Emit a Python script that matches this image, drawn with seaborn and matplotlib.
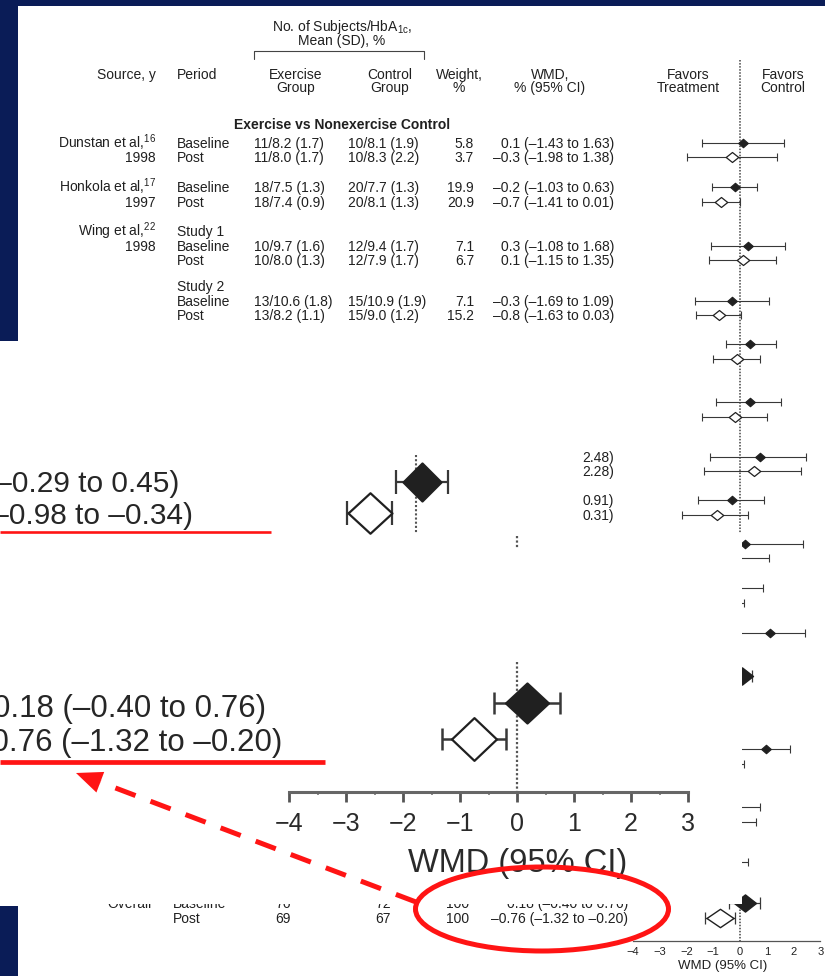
import numpy as np
import pandas as pd
import matplotlib
matplotlib.use("Agg")
import matplotlib.pyplot as plt
import seaborn as sns
from matplotlib.patches import Rectangle, Ellipse, Polygon
from matplotlib.path import Path

# ---------------- data ----------------
study_names = [r"Dunstan et al,$^{\mathrm{16}}$", r"Honkola et al,$^{\mathrm{17}}$",
               r"Wing et al,$^{\mathrm{22}}$"]
study_years = ["1998", "1997", "1998"]
wing_parts = ["Study 1", "Study 2"]
periods = ["Baseline", "Post"] * 4
exercise_group = ["11/8.2 (1.7)", "11/8.0 (1.7)", "18/7.5 (1.3)", "18/7.4 (0.9)",
                  "10/9.7 (1.6)", "10/8.0 (1.3)", "13/10.6 (1.8)", "13/8.2 (1.1)"]
control_group = ["10/8.1 (1.9)", "10/8.3 (2.2)", "20/7.7 (1.3)", "20/8.1 (1.3)",
                 "12/9.4 (1.7)", "12/7.9 (1.7)", "15/10.9 (1.9)", "15/9.0 (1.2)"]
weights = [5.8, 3.7, 19.9, 20.9, 7.1, 6.7, 7.1, 15.2]
wmd = [0.1, -0.3, -0.2, -0.7, 0.3, 0.1, -0.3, -0.8]
wmd_lo = [-1.43, -1.98, -1.03, -1.41, -1.08, -1.15, -1.69, -1.63]
wmd_hi = [1.63, 1.38, 0.63, 0.01, 1.68, 1.35, 1.09, 0.03]

# rows lower down, mostly hidden behind the call-outs (estimated from the visible bits)
hidden_period = ["Baseline", "Post"] * 6 + ["Baseline"] + ["Baseline", "Post"] * 2 + ["Post"]
hidden_est = [0.37, -0.11, 0.37, -0.19, 0.75, 0.52, -0.30, -0.86, 0.20, -0.50,
              -0.40, -0.90, 1.12, 0.97, -0.60, -0.20, -0.40, -0.35]
hidden_lo = [-0.52, -1.00, -0.90, -1.42, -1.12, -1.34, -1.57, -2.16, -2.10, -2.00,
             -1.60, -1.90, -0.20, -0.10, -1.40, -1.10, -1.40, -0.95]
hidden_hi = [1.34, 0.75, 1.53, 1.00, 2.48, 2.28, 0.91, 0.31, 2.35, 1.08,
             0.86, 0.15, 2.43, 1.87, 0.15, 0.75, 0.60, 0.30]

# pooled rows
sub_est = [0.08, -0.66]
sub_lo = [-0.29, -0.98]
sub_hi = [0.45, -0.34]
overall_periods = ["Baseline", "Post"]
overall_n_ex = [76, 69]
overall_n_ct = [72, 67]
overall_weight = [100, 100]
overall_est = [0.18, -0.76]
overall_lo = [-0.40, -1.32]
overall_hi = [0.76, -0.20]
axis_ticks = [-4, -3, -2, -1, 0, 1, 2, 3]

# ---------------- layout (pixels) ----------------
W, H = 825, 976
row_y = [143, 157, 187, 202, 246, 260, 301, 315]
name_y = [143, 187, 231]
year_y = [157, 202, 246]
part_y = [231, 286]
hidden_y = [344, 359, 402, 417, 457, 471, 500, 515, 544, 558, 588, 603, 633,
            749, 764, 807, 822, 862]
sub_y = [676, 691]
overall_y = [903, 918]

NAVY = "#0a1c57"
INK = "#202020"
LINE = "#383838"
RED = "#ff1414"

sns.set_style("white")
plt.rcParams["font.family"] = ["Liberation Sans", "DejaVu Sans"]
plt.rcParams["mathtext.fontset"] = "custom"
plt.rcParams["mathtext.rm"] = "Liberation Sans"
plt.rcParams["mathtext.it"] = "Liberation Sans:italic"
plt.rcParams["mathtext.bf"] = "Liberation Sans:bold"

fig = plt.figure(figsize=(W / 100, H / 100), dpi=100, facecolor=NAVY)


def px_axes(x0, y0, x1, y1, z):
    ax = fig.add_axes([x0 / W, 1 - y1 / H, (x1 - x0) / W, (y1 - y0) / H], zorder=z)
    ax.patch.set_visible(False)
    return ax


def dash(v, nd):
    return f"{v:.{nd}f}".replace("-", "\u2013")


def ci_text(e, l, h, nd=1):
    return f"{dash(e, nd)} ({dash(l, 2)} to {dash(h, 2)})"


def put(ax, x, y, s, ha="left", size=10, off=5.0, **kw):
    kw.setdefault("color", INK)
    ax.text(x, y + off, s, ha=ha, va="baseline", fontsize=size, **kw)


def diamond(r):
    return Path([(-1, 0), (0, r), (1, 0), (0, -r), (-1, 0)], closed=True)


def forest(ax, est, lo, hi, ys, filled, w_px, ratio, lw, cap, edge_lw):
    est, lo, hi, ys = (np.asarray(a, dtype=float) for a in (est, lo, hi, ys))
    ax.errorbar(est, ys, xerr=[est - lo, hi - est], fmt="none", ecolor=LINE,
                elinewidth=lw, capsize=cap, capthick=lw, zorder=2)
    df = pd.DataFrame({"est": est, "y": ys, "filled": filled})
    for i, (flag, face) in enumerate([(True, INK), (False, "white")]):
        part = df[df["filled"] == flag]
        if len(part):
            sns.scatterplot(data=part, x="est", y="y", ax=ax, marker=diamond(ratio[i]),
                            s=(w_px[i] * 0.72) ** 2, color=face, edgecolor=INK,
                            linewidth=edge_lw, legend=False, zorder=3, clip_on=False)
    ax.set_xlabel("")
    ax.set_ylabel("")


# ---------------- page and table ----------------
page = px_axes(0, 0, W, H, 0)
page.set_xlim(0, W)
page.set_ylim(H, 0)
page.set_axis_off()
page.add_patch(Rectangle((18, 6), W - 18, H - 6, color="white", lw=0))
page.add_patch(Rectangle((0, 341), 18, 565, color="white", lw=0))

put(page, 342, 26, r"No. of Subjects/HbA$_{\mathrm{1c}}$,", ha="center")
put(page, 342, 40, "Mean (SD), %", ha="center")
page.plot([254, 254, 424, 424], [59, 51, 51, 59], color="#444", lw=0.8)

headers = [(156, "right", "Source, y", ""), (177, "left", "Period", ""),
           (296, "center", "Exercise", "Group"), (390, "center", "Control", "Group"),
           (459, "center", "Weight,", "%"), (550, "center", "WMD,", "% (95% CI)"),
           (688, "center", "Favors", "Treatment"), (783, "center", "Favors", "Control")]
for x, ha, l1, l2 in headers:
    put(page, x, 74, l1, ha=ha)
    if l2:
        put(page, x, 87, l2, ha=ha)

put(page, 342, 124, "Exercise vs Nonexercise Control", ha="center", fontweight="bold")

for name, yr, yn, yy in zip(study_names, study_years, name_y, year_y):
    put(page, 156, yn, name, ha="right")
    put(page, 156, yy, yr, ha="right")
for part, yp in zip(wing_parts, part_y):
    put(page, 177, yp, part)
for i, y in enumerate(row_y):
    put(page, 177, y, periods[i])
    put(page, 254, y, exercise_group[i])
    put(page, 348, y, control_group[i])
    put(page, 474, y, f"{weights[i]:.1f}", ha="right")
    put(page, 614, y, ci_text(wmd[i], wmd_lo[i], wmd_hi[i]), ha="right")

# visible slivers of covered rows
for i in [4, 5, 6, 7]:
    put(page, 614, hidden_y[i], f"{hidden_hi[i]:.2f})", ha="right")

put(page, 152, overall_y[0], "Overall", ha="right")
for i, y in enumerate(overall_y):
    put(page, 173, y, overall_periods[i])
    put(page, 283, y, str(overall_n_ex[i]), ha="center")
    put(page, 383, y, str(overall_n_ct[i]), ha="center")
    put(page, 458, y, str(overall_weight[i]), ha="center")
    put(page, 628, y, ci_text(overall_est[i], overall_lo[i], overall_hi[i], 2), ha="right")

# ---------------- main forest plot ----------------
ZERO, PXU = 740, 26.8
fp = px_axes(620, 0, W, 941, 1)
fp.vlines(0, 60, 941, colors="#444", linestyles=(0, (1, 1)), lw=1.1, zorder=1)
forest(fp, wmd, wmd_lo, wmd_hi, row_y, [p == "Baseline" for p in periods],
       (9.5, 12.5), (0.88, 0.8), 0.8, 2.9, 0.9)
forest(fp, hidden_est, hidden_lo, hidden_hi, hidden_y,
       [p == "Baseline" for p in hidden_period], (9.5, 12.5), (0.88, 0.8), 0.8, 2.9, 0.9)
forest(fp, sub_est, sub_lo, sub_hi, sub_y, [True, False], (22, 27), (0.78, 0.68), 0.9, 4.5, 1.0)
forest(fp, overall_est, overall_lo, overall_hi, overall_y, [True, False],
       (22, 27), (0.78, 0.68), 0.9, 4.5, 1.0)
fp.set_xlim((620 - ZERO) / PXU, (W - ZERO) / PXU)
fp.set_ylim(941, 0)
for s in ["top", "right", "left"]:
    fp.spines[s].set_visible(False)
fp.spines["bottom"].set_bounds(axis_ticks[0], axis_ticks[-1])
fp.spines["bottom"].set_color("#555")
fp.spines["bottom"].set_linewidth(0.9)
fp.set_xticks(axis_ticks)
fp.set_yticks([])
fp.tick_params(axis="x", length=2.5, width=0.8, color="#555", labelcolor=INK,
               labelsize=8, pad=2)
fp.set_xlabel("WMD (95% CI)", fontsize=9.5, color=INK, labelpad=2)

# ---------------- cover for the call-outs ----------------
cov = px_axes(0, 0, W, H, 2)
cov.set_xlim(0, W)
cov.set_ylim(H, 0)
cov.set_axis_off()
cov.add_patch(Rectangle((0, 533), 742, 371, color="white", lw=0))

# call-out 1: subtotal, enlarged
put(cov, 179, 482, ci_text(sub_est[0], sub_lo[0], sub_hi[0], 2), ha="right", size=21.5,
    off=10.5, color="#262626")
put(cov, 193, 513, ci_text(sub_est[1], sub_lo[1], sub_hi[1], 2), ha="right", size=21.5,
    off=10.5, color="#262626")
in1 = px_axes(0, 341, 620, 533, 3)
in1.vlines(0, 455, 533, colors="#555", linestyles=(0, (1, 1)), lw=1.5)
forest(in1, sub_est, sub_lo, sub_hi, [482, 513], [True, False], (38, 44), (1.0, 0.92), 1.6, 8.3, 1.6)
in1.set_xlim(-416 / 70, (620 - 416) / 70)
in1.set_ylim(533, 341)
in1.set_axis_off()

# call-out 2: overall, enlarged
put(cov, 266, 705, ci_text(overall_est[0], overall_lo[0], overall_hi[0], 2), ha="right",
    size=22.5, off=11.5, color="#262626")
put(cov, 282, 739, ci_text(overall_est[1], overall_lo[1], overall_hi[1], 2), ha="right",
    size=22.5, off=11.5, color="#262626")
in2 = px_axes(0, 533, 742, 792, 3)
in2.vlines([0, 0], [662, 536], [792, 548], colors="#555", linestyles=(0, (1, 1)), lw=1.6)
forest(in2, overall_est, overall_lo, overall_hi, [703, 739], [True, False],
       (43, 45), (0.93, 0.95), 1.8, 8, 1.6)
in2.set_xlim(-517 / 57, (742 - 517) / 57)
in2.set_ylim(792, 533)
for s in ["top", "right", "left"]:
    in2.spines[s].set_visible(False)
in2.spines["bottom"].set_bounds(axis_ticks[0], axis_ticks[-1])
in2.spines["bottom"].set_color("#666")
in2.spines["bottom"].set_linewidth(2.2)
in2.set_xticks(axis_ticks)
in2.set_xticks(np.arange(axis_ticks[0], axis_ticks[-1] + 0.01, 0.5), minor=True)
in2.set_yticks([])
in2.tick_params(axis="x", which="major", direction="out", length=7.2, width=2.0,
                color="#555", labelcolor="#2a2a2a", labelsize=18, pad=7.5, bottom=True)
in2.tick_params(axis="x", which="minor", direction="out", length=2.5, width=1.2,
                color="#777", bottom=True)
in2.set_xlabel("WMD (95% CI)", fontsize=23.5, color="#2a2a2a")
in2.xaxis.set_label_coords(518 / 742, -(848 - 792) / 259)

# ---------------- red annotations ----------------
top = px_axes(0, 0, W, H, 4)
top.set_xlim(0, W)
top.set_ylim(H, 0)
top.set_axis_off()
top.plot([0, 271], [532, 532], color=RED, lw=1.9, solid_capstyle="butt")
top.plot([0, 325], [762, 762], color=RED, lw=3.4, solid_capstyle="butt")
top.add_patch(Ellipse((542, 909), 253, 84, fill=False, edgecolor=RED, lw=3.6))

tail = np.array([416.0, 902.0])
tip = np.array([76.0, 773.0])
u = (tip - tail) / np.linalg.norm(tip - tail)
n = np.array([-u[1], u[0]])
base = tip - u * 26
top.plot([tail[0], base[0]], [tail[1], base[1]], color=RED, lw=3.6,
         linestyle=(0, (4.3, 3.2)), solid_capstyle="butt")
top.add_patch(Polygon([tip, base + n * 11, base - n * 11], closed=True, color=RED, lw=0))

fig.savefig("out.png", dpi=100, facecolor=NAVY)
